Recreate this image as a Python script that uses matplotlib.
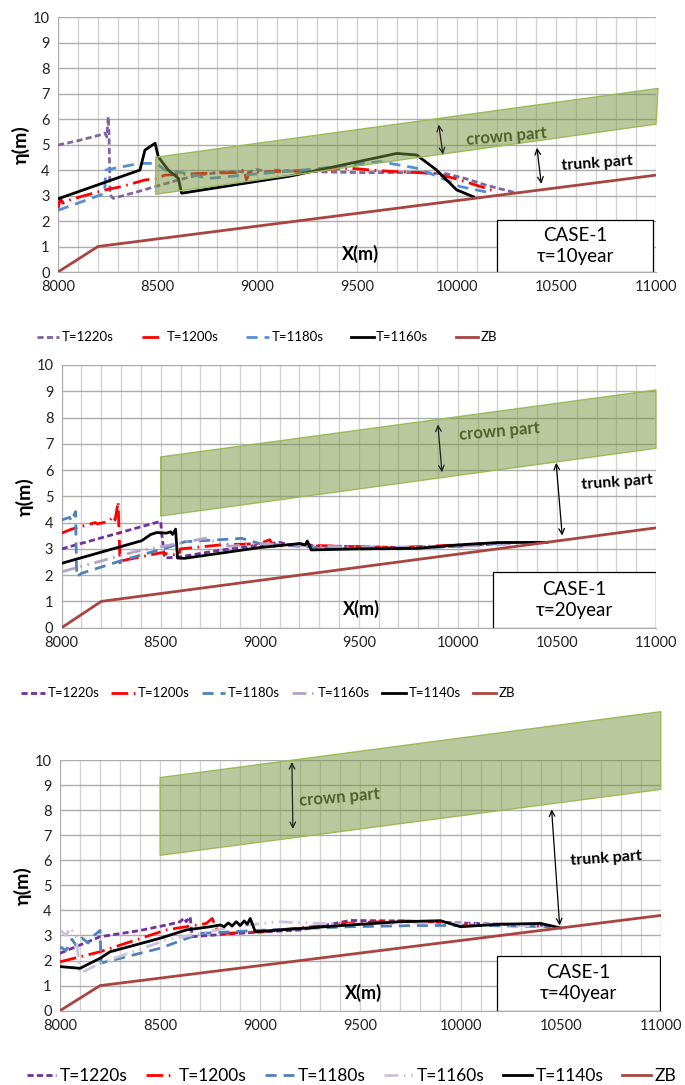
import matplotlib
matplotlib.use("Agg")
import matplotlib.pyplot as plt
from matplotlib.patches import Polygon, Rectangle

plt.rcParams["font.family"] = ["Lato", "DejaVu Sans"]

# bed level (same in all three panels)
zb_x = [8000, 8200, 11000]
zb_y = [0, 1, 3.8]

# ---- tau = 10 year ----
p1_1220_x = [8000, 8100, 8200, 8236, 8245, 8252, 8256, 8261, 8277, 8400, 8487, 8600, 8700, 8800,
             8900, 8950, 9000, 9050, 9089, 9200, 9500, 9800, 9950, 10050, 10150, 10290]
p1_1220_y = [4.98, 5.15, 5.35, 5.44, 5.3, 6.09, 5.4, 3.02, 2.89, 3.15, 3.35, 3.6, 3.8, 3.9,
             3.95, 3.9, 4.02, 3.92, 4.0, 3.95, 3.9, 3.9, 3.85, 3.65, 3.4, 3.12]
p1_1200_x = [8000, 8012, 8025, 8040, 8085, 8236, 8319, 8436, 8487, 8537, 8721, 8900, 8935, 8945,
             8960, 9200, 9465, 9615, 9800, 9883, 10000, 10100, 10201]
p1_1200_y = [2.5, 2.88, 2.7, 2.78, 2.89, 3.22, 3.35, 3.61, 3.65, 3.8, 3.87, 3.9, 4.02, 3.6,
             3.9, 3.97, 4.07, 3.97, 3.9, 3.87, 3.65, 3.4, 3.15]
p1_1180_x = [8000, 8233, 8240, 8408, 8492, 8537, 8642, 8754, 9000, 9300, 9615, 9800, 9866, 9967,
             10017, 10167]
p1_1180_y = [2.42, 3.08, 4.0, 4.26, 4.26, 4.0, 3.87, 3.67, 3.85, 4.05, 4.33, 4.07, 3.87, 3.54,
             3.35, 3.11]
p1_1160_x = [8000, 8411, 8436, 8487, 8503, 8553, 8604, 8620, 9164, 9699, 9799, 9899, 10000, 10084]
p1_1160_y = [2.87, 4.0, 4.78, 5.05, 4.52, 4.0, 3.67, 3.09, 3.76, 4.65, 4.59, 4.0, 3.22, 2.95]

# ---- tau = 20 year ----
p2_1220_x = [8000, 8500, 8505, 8520, 8600, 8800, 9100, 9150, 9200, 9300, 9400, 9700, 10000, 10300]
p2_1220_y = [3.0, 4.05, 3.6, 2.65, 2.7, 2.95, 3.25, 3.15, 3.2, 3.1, 3.1, 3.05, 3.1, 3.25]
p2_1200_x = [8000, 8050, 8170, 8180, 8240, 8260, 8270, 8285, 8295, 8305, 8500, 8590, 8600, 8800,
             9000, 9050, 9070, 9200, 9400, 9700, 10000, 10300]
p2_1200_y = [3.6, 3.75, 4.0, 3.95, 4.05, 4.25, 4.1, 4.8, 2.4, 2.55, 2.85, 2.75, 3.0, 3.15,
             3.2, 3.35, 3.1, 3.15, 3.1, 3.05, 3.15, 3.25]
p2_1180_x = [8000, 8040, 8050, 8070, 8076, 8101, 8300, 8521, 8622, 8909, 9000, 9100, 9300, 9500,
             9700, 10000, 10300]
p2_1180_y = [4.1, 4.2, 4.05, 4.42, 1.94, 2.07, 2.55, 3.02, 3.27, 3.4, 3.2, 3.15, 3.05, 3.0,
             3.0, 3.1, 3.25]
p2_1160_x = [8000, 8370, 8521, 8723, 8850, 9000, 9300, 9600, 10000, 10300]
p2_1160_y = [2.13, 2.89, 3.11, 3.4, 3.1, 3.2, 3.1, 3.05, 3.1, 3.2]
p2_1140_x = [8000, 8404, 8450, 8480, 8530, 8550, 8560, 8575, 8585, 8620, 9000, 9200, 9230, 9240,
             9260, 9500, 9800, 10000, 10200, 10450]
p2_1140_y = [2.45, 3.31, 3.55, 3.62, 3.6, 3.65, 3.55, 3.75, 2.65, 2.64, 3.05, 3.2, 3.15, 3.3,
             2.96, 3.0, 3.02, 3.15, 3.24, 3.25]

# ---- tau = 40 year ----
p3_1220_x = [8000, 8200, 8400, 8550, 8600, 8620, 8630, 8650, 8660, 8870, 9200, 9450, 9700, 10000,
             10200, 10450]
p3_1220_y = [2.29, 2.95, 3.2, 3.45, 3.55, 3.7, 3.55, 3.75, 2.95, 3.08, 3.22, 3.6, 3.58, 3.5,
             3.45, 3.4]
p3_1200_x = [8000, 8200, 8530, 8730, 8760, 8780, 8815, 9000, 9450, 9700, 9900, 10000, 10200, 10450]
p3_1200_y = [1.95, 2.35, 3.22, 3.48, 3.68, 3.3, 3.08, 3.15, 3.5, 3.58, 3.55, 3.4, 3.45, 3.35]
p3_1180_x = [8000, 8030, 8060, 8080, 8110, 8140, 8170, 8200, 8205, 8500, 8700, 9030, 9450, 9800,
             10100, 10450]
p3_1180_y = [2.55, 2.4, 2.85, 2.6, 2.9, 2.7, 3.0, 3.2, 1.9, 2.49, 3.08, 3.22, 3.35, 3.4,
             3.4, 3.35]
p3_1160_x = [8000, 8030, 8050, 8080, 8100, 8200, 8530, 8870, 9080, 9400, 9800, 10100, 10450]
p3_1160_y = [3.22, 3.0, 3.3, 3.0, 1.49, 1.89, 2.82, 3.35, 3.55, 3.45, 3.5, 3.45, 3.35]
p3_1140_x = [8000, 8100, 8200, 8250, 8500, 8630, 8750, 8800, 8820, 8840, 8860, 8880, 8900, 8920,
             8935, 8950, 8975, 9200, 9450, 9700, 9900, 10000, 10200, 10400, 10500]
p3_1140_y = [1.76, 1.69, 2.09, 2.35, 2.89, 3.22, 3.35, 3.42, 3.35, 3.5, 3.38, 3.55, 3.4, 3.58,
             3.45, 3.68, 3.15, 3.28, 3.42, 3.55, 3.59, 3.35, 3.45, 3.48, 3.3]

# crown-part band corners (x, y): left-bottom, left-top, right-top, right-bottom
p1_band = [(8490, 3.05), (8490, 4.5), (11010, 7.2), (11000, 5.8)]
p2_band = [(8500, 4.25), (8500, 6.5), (11000, 9.05), (11000, 6.83)]
p3_band = [(8500, 6.2), (8500, 9.3), (11000, 11.93), (11000, 8.83)]

x_ticks = [8000, 8500, 9000, 9500, 10000, 10500, 11000]

sty = {
    "short": dict(ls=(0, (2.2, 1.2)), lw=2.0),
    "dashdot": dict(ls=(0, (6, 2, 0.6, 2)), lw=2.0),
    "long": dict(ls=(0, (4, 2.5)), lw=2.0),
    "dashdotdot": dict(ls=(0, (5, 2, 0.6, 2, 0.6, 2)), lw=2.0),
    "solid": dict(ls="-", lw=2.0),
}

fig = plt.figure(figsize=(6.85, 10.85), dpi=100)


def panel(rect, series, band, crown, trunk, box, leg):
    ax = fig.add_axes(rect)
    for label, xs, ys, color, st in series:
        ax.plot(xs, ys, color=color, label=label, zorder=3, **sty[st])
    ax.plot(zb_x, zb_y, color="#A84541", lw=2.0, label="ZB", zorder=3)
    ax.add_patch(Polygon(band, closed=True, facecolor="#77933C", alpha=0.5,
                         edgecolor="none", zorder=4, clip_on=False))
    ax.add_patch(Polygon(band, closed=True, fill=False, edgecolor="#9BBB59",
                         lw=1.0, zorder=4, clip_on=False))

    # arrows and labels
    (cx, cy0, cy1, ctx, cty), (tx, ty0, ty1, ttx, tty) = crown, trunk
    ax.annotate("", xy=(cx[1], cy1), xytext=(cx[0], cy0),
                arrowprops=dict(arrowstyle="<->", color="#222222", lw=0.9), zorder=5)
    ax.text(ctx, cty, "crown part", color="#4F6228", fontsize=12, fontweight="bold",
            ha="center", va="center", rotation=5, zorder=5)
    ax.annotate("", xy=(tx[1], ty1), xytext=(tx[0], ty0),
                arrowprops=dict(arrowstyle="<->", color="black", lw=0.9), zorder=5)
    ax.text(ttx, tty, "trunk part", color="black", fontsize=11.5, fontweight="bold",
            ha="center", va="center", rotation=4, zorder=5)

    bx0, bx1, by1, tau = box
    ax.add_patch(Rectangle((bx0, 0), bx1 - bx0, by1, facecolor="white", edgecolor="black",
                           lw=0.9, zorder=6))
    ax.text((bx0 + bx1) / 2, by1 * 0.5, "CASE-1\n\u03c4=" + tau, ha="center", va="center",
            fontsize=13.5, linespacing=1.3, zorder=7)
    ax.text(9515, 0.72, "X(m)", fontsize=13, fontweight="bold", ha="center", va="center",
            zorder=7)

    ax.set_xlim(8000, 11000)
    ax.set_ylim(0, 10)
    ax.set_xticks(x_ticks)
    ax.set_xticks(range(8000, 11001, 100), minor=True)
    ax.set_yticks(range(0, 11))
    ax.grid(axis="y", which="major", color="#ADADAD", lw=1.0, zorder=0)
    ax.grid(axis="x", which="both", color="#D3D3D3", lw=1.0, zorder=0)
    ax.tick_params(which="both", length=0, labelsize=10.5, colors="#222222", pad=6)
    for s in ["top", "right"]:
        ax.spines[s].set_visible(False)
    ax.spines["left"].set_color("#ADADAD")
    ax.spines["bottom"].set_color("#ADADAD")
    ax.set_ylabel("\u03b7(m)", fontsize=14, fontweight="bold", labelpad=2)
    ax.set_axisbelow(True)

    lx, ly, size, hlen, cs = leg
    h, l = ax.get_legend_handles_labels()
    fig.legend(h, l, loc="center left", bbox_to_anchor=(lx, ly), ncol=len(l),
               frameon=False, fontsize=size, handlelength=hlen, handletextpad=0.2,
               columnspacing=cs, borderaxespad=0, borderpad=0)
    return ax


panel([0.0847, 0.7493, 0.873, 0.235],
      [("T=1220s", p1_1220_x, p1_1220_y, "#8064A2", "short"),
       ("T=1200s", p1_1200_x, p1_1200_y, "#FF0000", "dashdot"),
       ("T=1180s", p1_1180_x, p1_1180_y, "#558ED5", "long"),
       ("T=1160s", p1_1160_x, p1_1160_y, "black", "solid")],
      p1_band,
      ((9908, 9933), 5.89, 4.5, 10251, 5.31),
      ((10401, 10426), 4.98, 3.35, 10703, 4.26),
      (10201, 10986, 2.04, "10year"), (0.054, 0.689, 9.5, 1.7, 2.1))

panel([0.090, 0.4215, 0.8676, 0.2421],
      [("T=1220s", p2_1220_x, p2_1220_y, "#7030A0", "short"),
       ("T=1200s", p2_1200_x, p2_1200_y, "#FF0000", "dashdot"),
       ("T=1180s", p2_1180_x, p2_1180_y, "#4F81BD", "long"),
       ("T=1160s", p2_1160_x, p2_1160_y, "#B3A2C7", "dashdotdot"),
       ("T=1140s", p2_1140_x, p2_1140_y, "black", "solid")],
      p2_band,
      ((9898, 9921), 7.84, 5.81, 10212, 7.46),
      ((10495, 10528), 6.38, 3.40, 10802, 5.52),
      (10176, 11000, 2.11, "20year"), (0.031, 0.361, 9.5, 1.8, 0.9))

panel([0.0876, 0.0685, 0.877, 0.231],
      [("T=1220s", p3_1220_x, p3_1220_y, "#7030A0", "short"),
       ("T=1200s", p3_1200_x, p3_1200_y, "#FF0000", "dashdot"),
       ("T=1180s", p3_1180_x, p3_1180_y, "#4F81BD", "long"),
       ("T=1160s", p3_1160_x, p3_1160_y, "#CCC1DA", "dashdotdot"),
       ("T=1140s", p3_1140_x, p3_1140_y, "black", "solid")],
      p3_band,
      ((9158, 9163), 10.03, 7.14, 9398, 8.51),
      ((10454, 10496), 8.14, 3.29, 10729, 6.08),
      (10180, 10995, 2.18, "40year"), (0.039, 0.0083, 12.5, 1.7, 1.05))

fig.savefig("out.png", dpi=100)
